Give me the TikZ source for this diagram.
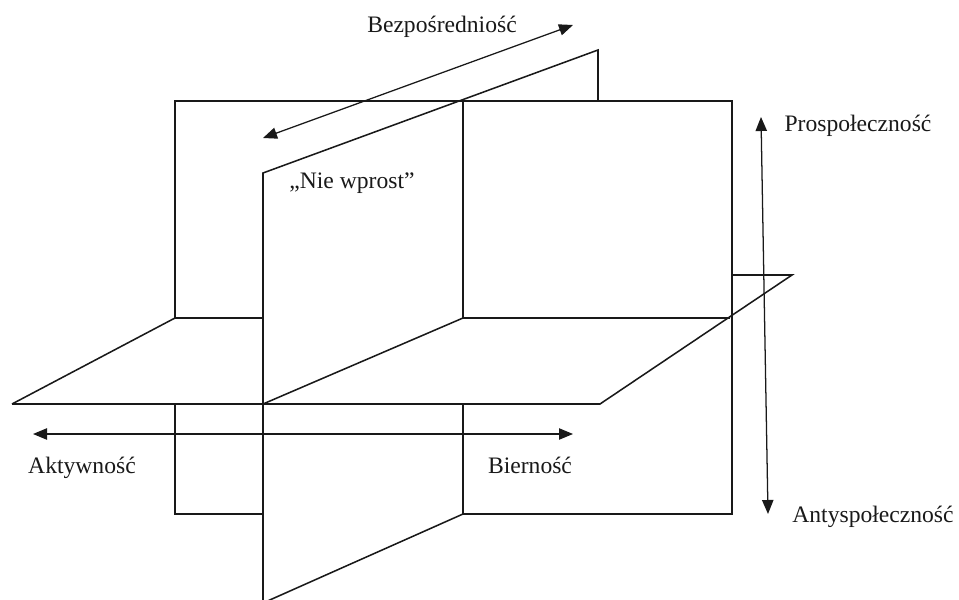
\documentclass[tikz,border=0pt]{standalone}
\usepackage{fontspec}
\setmainfont{Liberation Serif}
\usetikzlibrary{arrows.meta}
\begin{document}
\begin{tikzpicture}[x=0.75pt,y=-0.75pt,
  plane/.style={line width=1.15pt,line join=miter,black!90},
  axis/.style={line width=0.95pt,black!90,{Triangle[length=10.5pt,width=8.5pt]}-{Triangle[length=10.5pt,width=8.5pt]}},
  lbl/.style={anchor=base,inner sep=0pt,font=\fontsize{17.7}{20}\selectfont,black!90}]
\useasboundingbox (0,0) rectangle (959,599);
% back (frontal) plane
\draw[plane] (175,318) -- (175,101) -- (732,101) -- (732,514) -- (463,514);
\draw[plane] (463,101) -- (463,318);
\draw[plane] (463,404) -- (463,514);
\draw[plane] (175,404) -- (175,514) -- (263,514);
\draw[line width=2.2pt,black!90] (470,514) -- (479,514);
% horizontal plane
\draw[plane] (12,404) -- (600,404) -- (792,275) -- (732,275);
\draw[plane] (12,404) -- (175,318) -- (263,318);
\draw[plane] (463,318) -- (730,318);
\draw[plane] (263,404) -- (463,318);
% depth plane
\draw[plane] (263,603) -- (263,173) -- (598,50) -- (598,101);
\draw[plane] (263,603) -- (463,514);
% axes
\coordinate (bzA) at (263,138);
\coordinate (bzB) at (573,25);
\coordinate (akA) at (33,434);
\coordinate (akB) at (573,434);
\coordinate (prA) at (761,117);
\coordinate (prB) at (768,514);
\draw[axis] (bzA) -- (bzB);
\draw[axis] (akA) -- (akB);
\draw[axis] (prA) -- (prB);
% labels
\node[lbl] (bez) at (442,33) {Bezpośredniość};
\node[lbl] (nie) at (352,188) {„Nie wprost”};
\node[lbl] (pro) at (858,132) {Prospołeczność};
\node[lbl] (anty) at (873,522) {Antyspołeczność};
\node[lbl] (akt) at (82,473) {Aktywność};
\node[lbl] (bier) at (530,473) {Bierność};
\end{tikzpicture}
\end{document}
